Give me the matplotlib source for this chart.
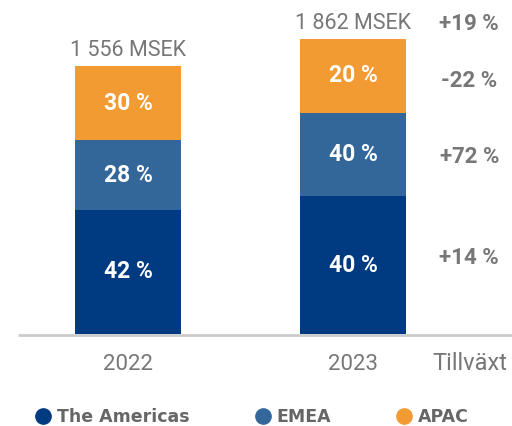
import matplotlib.pyplot as plt
from matplotlib.lines import Line2D

# Data (segment heights as drawn, labels as printed)
years = ['2022', '2023']
regions = ['The Americas', 'EMEA', 'APAC']
americas = [124, 138]
emea = [70, 83]
apac = [74, 74]
share_labels = {
    'The Americas': ['42 %', '40 %'],
    'EMEA': ['28 %', '40 %'],
    'APAC': ['30 %', '20 %'],
}
totals = ['1 556 MSEK', '1 862 MSEK']
growth = ['+14 %', '+72 %', '-22 %', '+19 %']

colors = ['#003a80', '#336699', '#f29b33']
gray = '#777777'

plt.rcParams['font.family'] = ['Roboto', 'DejaVu Sans']

fig = plt.figure(figsize=(5.12, 4.26), dpi=100)
ax = fig.add_axes([0, 0, 1, 1])
ax.set_xlim(-0.569, 1.707)
ax.set_ylim(-92, 334)
ax.axis('off')

x = [0, 1]
width = 0.471
bottoms = [0, 0]
series = [americas, emea, apac]
for name, vals, col in zip(regions, series, colors):
    ax.bar(x, vals, width, bottom=bottoms, color=col, linewidth=0)
    for i in range(2):
        ax.text(x[i], bottoms[i] + vals[i] / 2, share_labels[name][i],
                ha='center', va='center', color='white', fontsize=16.5,
                fontweight='bold')
    bottoms = [b + v for b, v in zip(bottoms, vals)]

# totals above the bars
for i in range(2):
    ax.text(x[i], bottoms[i] + 5, totals[i], ha='center', va='bottom',
            color=gray, fontsize=15.5)

# baseline
ax.plot([-0.489, 1.707], [-1, -1], color='#cccccc', lw=2, solid_capstyle='butt')

# year labels
for i in range(2):
    ax.text(x[i], -30, years[i], ha='center', va='center', color=gray, fontsize=16)
ax.text(1.52, -30, 'Tillväxt', ha='center', va='center', color=gray, fontsize=17)

# growth column
gx = 1.517
gkw = dict(ha='center', va='center', color=gray, fontsize=16, fontweight='bold')
ax.text(gx, 76, growth[0], **gkw)
ax.text(gx, 177, growth[1], **gkw)
ax.text(gx, 253, growth[2], **gkw)
ax.text(gx, 310, growth[3], **gkw)

# legend
handles = [Line2D([], [], marker='o', ls='', color=c, markersize=11) for c in colors]
leg = ax.legend(handles, regions, loc='center', bbox_to_anchor=(0.49, 0.022),
                ncol=3, frameon=False, handletextpad=0.2, columnspacing=3.6,
                handlelength=1.2,
                prop={'family': 'DejaVu Sans', 'weight': 'bold', 'size': 12.5})
for t in leg.get_texts():
    t.set_color('#666666')

fig.savefig('out.png', dpi=100)
